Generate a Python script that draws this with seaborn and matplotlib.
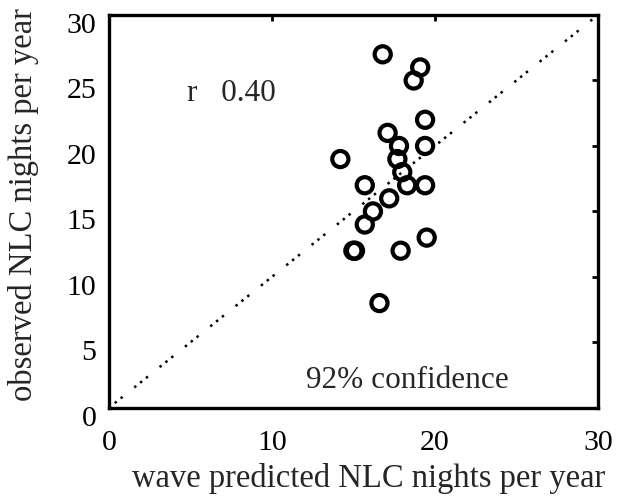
import matplotlib
matplotlib.use("Agg")
import matplotlib.pyplot as plt
import matplotlib.transforms as mtransforms
import seaborn as sns
import pandas as pd

predicted = [16.8, 19.1, 18.7, 19.4, 17.1, 17.8, 19.4, 17.7, 14.2, 18.0, 18.3,
             19.4, 15.7, 17.2, 16.2, 15.7, 15.0, 15.1, 17.9, 19.5, 16.6]
observed = [27, 26, 25, 22, 21, 20, 20, 19, 19, 18, 17,
            17, 17, 16, 15, 14, 12, 12, 12, 13, 8]
line_x = [0, 30]
line_y = [0, 30]
x_ticks = [0, 10, 20, 30]
y_ticks = [0, 5, 10, 15, 20, 25, 30]

sns.set_theme(style="white")
plt.rcParams['font.family'] = ['Liberation Serif', 'DejaVu Serif']

fig = plt.figure(figsize=(6.26, 5.01), dpi=100)
ax = fig.add_axes([0.174, 0.186, 0.781, 0.784])

df = pd.DataFrame({"x": predicted, "y": observed})
sns.lineplot(x=line_x, y=line_y, ax=ax, color="black", linewidth=1.8,
             linestyle=(0, (1.0, 2.0, 1.0, 2.0, 1.0, 6.0)))
sns.scatterplot(data=df, x="x", y="y", ax=ax, marker="o", s=135,
                facecolor="none", edgecolor="black", linewidth=3.0, zorder=3)

ax.set_xlim(0, 30)
ax.set_ylim(0, 30)
ax.set_xticks(x_ticks)
ax.set_yticks(y_ticks)
ax.tick_params(direction="in", length=4, width=2, labelsize=21.5, top=True, right=True,
               labeltop=False, labelright=False, colors="black")
ax.tick_params(axis="x", pad=16)
ax.tick_params(axis="y", pad=9)
offset = mtransforms.ScaledTranslation(0, -8 / 100, fig.dpi_scale_trans)
for lab in ax.get_yticklabels():
    lab.set_transform(lab.get_transform() + offset)
for sp in ax.spines.values():
    sp.set_linewidth(2.4)
    sp.set_color("black")
ax.set_xlabel("wave predicted NLC nights per year", fontsize=23.5)
ax.set_ylabel("observed NLC nights per year", fontsize=23.5)
ax.xaxis.set_label_coords(0.532, -0.14)
ax.yaxis.set_label_coords(-0.142, 0.517)
ax.text(4.8, 24.0, "r   0.40", fontsize=22.5, va="center", ha="left")
ax.text(12.1, 2.1, "92% confidence", fontsize=22.5, va="center", ha="left")

fig.savefig("out.png", dpi=100)
